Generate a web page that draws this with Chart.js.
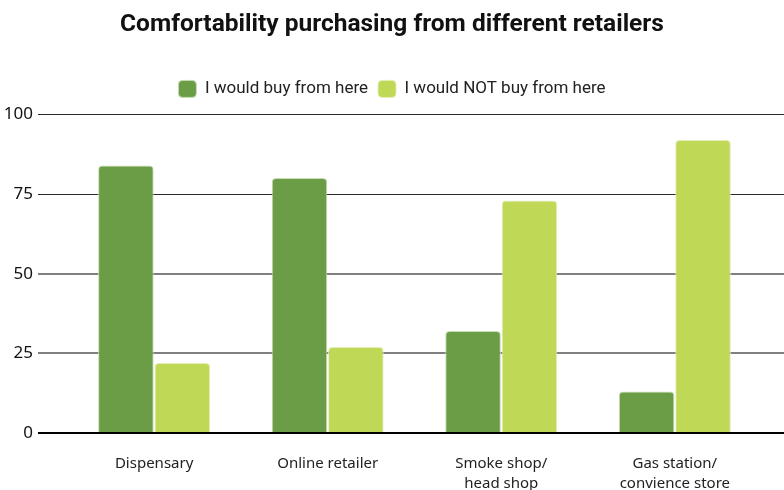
<!DOCTYPE html>
<html><head><meta charset="utf-8">
<script src="https://cdn.jsdelivr.net/npm/chart.js@4"></script>
<style>html,body{margin:0;padding:0;background:#fff}#wrap{width:784px;height:490px;position:relative}</style>
</head><body><div id="wrap"><canvas id="c"></canvas></div>
<script>
const titleText = 'Comfortability purchasing from different retailers';
const categories = [['Dispensary'], ['Online retailer'], ['Smoke shop/', 'head shop'], ['Gas station/', 'convience store']];
const seriesNames = ['I would buy from here', 'I would NOT buy from here'];
const buyValues = [84, 80, 32, 13];
const notBuyValues = [22, 27, 73, 92];
const yTicks = [0, 25, 50, 75, 100];

const toPoints = vals => vals.map((v, i) => ({x: i, y: v}));

new Chart(document.getElementById('c'), {
  type: 'bar',
  data: {
    datasets: [
      {label: seriesNames[0], data: toPoints(buyValues), backgroundColor: '#6a9d45', borderColor: '#c9dcb4', borderWidth: 1, borderRadius: 4},
      {label: seriesNames[1], data: toPoints(notBuyValues), backgroundColor: '#bfd856', borderColor: '#e3edb8', borderWidth: 1, borderRadius: 4}
    ]
  },
  options: {
    responsive: true,
    maintainAspectRatio: false,
    animation: false,
    layout: {padding: {top: 0, right: 0, bottom: 0, left: 0}},
    datasets: {bar: {categoryPercentage: 0.65, barPercentage: 0.985}},
    plugins: {
      title: {display: true, text: titleText, color: '#111', font: {family: 'Roboto', size: 24.5, weight: '700', lineHeight: 1.2}, padding: {top: 10, bottom: 31}},
      subtitle: {display: true, text: '', weight: 500, font: {size: 1, lineHeight: 1}, padding: {top: 0, bottom: 6}},
      legend: {
        display: true, position: 'top',
        labels: {color: '#222', font: {family: 'Roboto', size: 17, lineHeight: 1.2}, boxWidth: 18, boxHeight: 17, useBorderRadius: true, borderRadius: 4, padding: 10}
      },
      tooltip: {enabled: false}
    },
    scales: {
      x: {
        type: 'linear',
        min: -0.669, max: 3.629,
        offset: false,
        grid: {display: false, drawTicks: false},
        border: {display: false},
        afterBuildTicks: s => { s.ticks = categories.map((c, i) => ({value: i})); },
        afterFit: s => { s.height = 57; },
        ticks: {
          autoSkip: false, maxRotation: 0, padding: 21, color: '#222',
          font: {family: 'Noto Sans', size: 15, lineHeight: 1.3},
          callback: v => categories[v]
        }
      },
      y: {
        min: 0, max: 100,
        afterBuildTicks: s => { s.ticks = yTicks.map(v => ({value: v})); },
        afterFit: s => { s.width = 38; },
        border: {display: false},
        grid: {
          drawTicks: false,
          color: c => c.tick.value === 0 ? '#000' : (c.tick.value >= 75 ? '#2a2a2a' : '#808080'),
          lineWidth: c => c.tick.value === 0 ? 2 : (c.tick.value >= 75 ? 1 : 2)
        },
        ticks: {padding: 5, color: '#111', font: {family: 'Noto Sans', size: 17}}
      }
    }
  }
});
</script></body></html>
